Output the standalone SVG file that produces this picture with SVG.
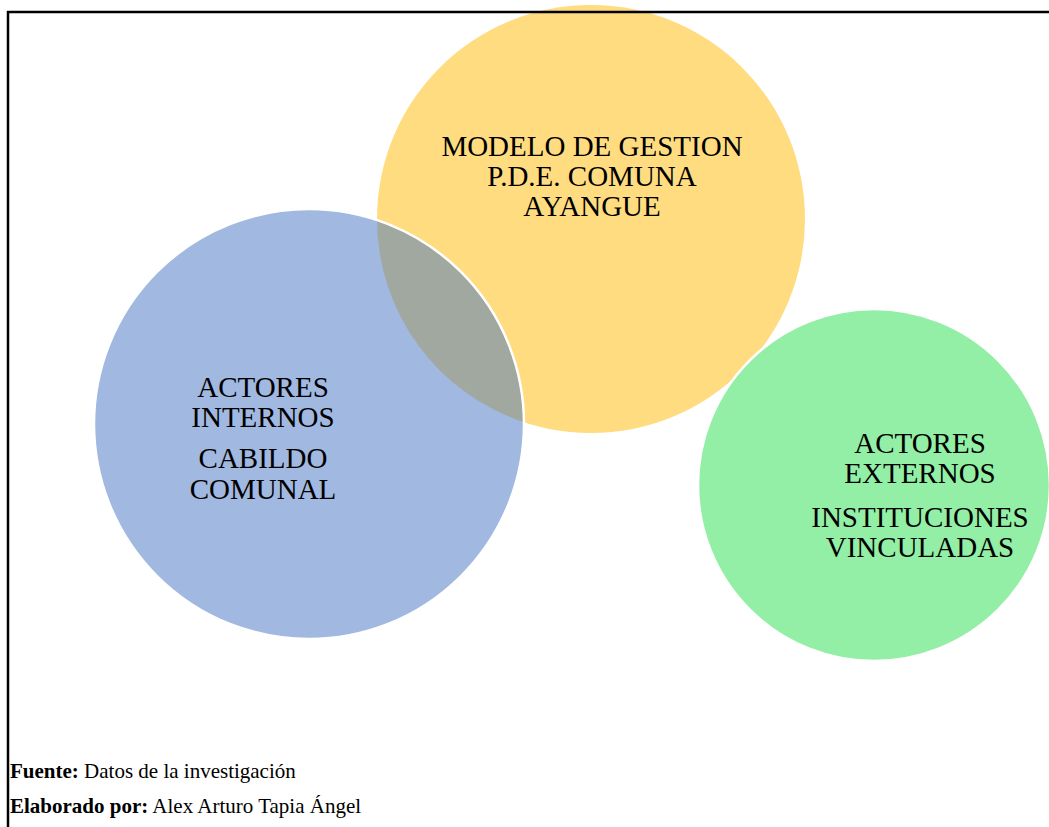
<svg xmlns="http://www.w3.org/2000/svg" width="1049" height="827" viewBox="0 0 1049 827">
<style>
.lbl{font-size:29px;fill:#000;text-anchor:middle}
.foot{font-size:21px;fill:#000}
.b{font-weight:bold}
.edge{fill:none;stroke:#fff;stroke-width:2.5}
</style>
<rect width="1049" height="827" fill="#fff"/>
<g font-family="'Liberation Serif', 'Times New Roman', serif">
<g id="yellow">
<circle cx="591" cy="219" r="214" fill="#FFDC80"/>
<text class="lbl" x="592" y="156">MODELO DE GESTION</text>
<text class="lbl" x="592" y="186">P.D.E. COMUNA</text>
<text class="lbl" x="592" y="216">AYANGUE</text>
</g>
<g id="blue">
<circle cx="309" cy="424" r="215" fill="#A1B8E0"/>
<text class="lbl" x="263" y="397">ACTORES</text>
<text class="lbl" x="263" y="427">INTERNOS</text>
<text class="lbl" x="263" y="468">CABILDO</text>
<text class="lbl" x="263" y="499">COMUNAL</text>
</g>
<g id="overlap">
<path d="M377,220 A215,215 0 0 1 524,422.2 A214,214 0 0 1 377,220 Z" fill="#A1A8A0"/>
<circle class="edge" cx="309" cy="424" r="215"/>
</g>
<g id="green">
<circle cx="874" cy="485" r="176" fill="#92EFA5" stroke="#fff" stroke-width="2.5"/>
<text class="lbl" x="920" y="453">ACTORES</text>
<text class="lbl" x="920" y="483">EXTERNOS</text>
<text class="lbl" x="920" y="527">INSTITUCIONES</text>
<text class="lbl" x="920" y="557">VINCULADAS</text>
</g>
<g id="frame" stroke="#000" stroke-width="2.5" fill="none">
<line x1="7" y1="12" x2="1049" y2="12"/>
<line x1="8" y1="11" x2="8" y2="827"/>
</g>
<g id="caption">
<text class="foot" x="10" y="778"><tspan class="b">Fuente:</tspan> Datos de la investigación</text>
<text class="foot" x="10" y="813"><tspan class="b">Elaborado por:</tspan> Alex Arturo Tapia Ángel</text>
</g>
</g>
</svg>
